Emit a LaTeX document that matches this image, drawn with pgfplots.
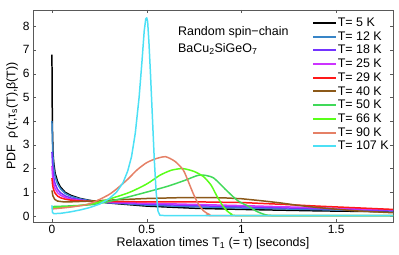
\documentclass[border=0pt]{standalone}
\usepackage{pgfplots}
\pgfplotsset{compat=1.18}
\usepackage{fontspec}
\setmainfont{Liberation Sans}
\definecolor{cK5}{rgb}{0,0,0}
\definecolor{cK12}{rgb}{0.22,0.52,0.78}
\definecolor{cK18}{rgb}{0.45,0.2,1}
\definecolor{cK25}{rgb}{0.8,0.2,1}
\definecolor{cK29}{rgb}{1,0.1,0.1}
\definecolor{cK40}{rgb}{0.55,0.35,0.1}
\definecolor{cK50}{rgb}{0.25,0.85,0.35}
\definecolor{cK66}{rgb}{0.35,1,0.1}
\definecolor{cK90}{rgb}{0.9,0.5,0.4}
\definecolor{cK107}{rgb}{0.3,0.88,0.96}
\begin{document}
\begin{tikzpicture}
\begin{axis}[
  name=ax, at={(0,0)}, anchor=south west,
  scale only axis, width=360bp, height=212bp,
  xmin=-0.1, xmax=1.8, ymin=-0.25, ymax=8.68,
  xtick={0,0.5,1,1.5}, ytick={0,1,...,8},
  tick align=inside, tick pos=both,
  major tick length=3bp,
  axis line style={black!65}, tick style={black!65},
  /pgf/number format/assume math mode=true,
  ticklabel style={font=\fontsize{12}{14}\selectfont},
  label style={font=\fontsize{12.5}{14}\selectfont},
  xlabel={Relaxation times T\textsubscript{1} (= τ) [seconds]},
  ylabel={PDF\ \ ρ(τ,τ\textsubscript{s}(T),β(T))},
  xlabel style={yshift=3bp},
  ylabel style={yshift=-2bp},
  legend style={draw=none, fill=none, inner sep=0pt, at={(rel axis cs:0.775,0.972)}, anchor=north west,
    font=\fontsize{12.5}{13.7}\selectfont, row sep=0pt,
    nodes={inner sep=0.6bp, text height=9.8bp, text depth=2.7bp},
    cells={anchor=west}},
  legend image code/.code={\draw[#1, line width=2pt] (0bp,0bp) -- (23bp,0bp);},
  myl/.style={line width=1.5pt, line join=round},
]
\addplot[myl, cK5] coordinates {(0,6.8)(0.001,5)(0.003,3.5)(0.006,2.6)(0.01,2.2)(0.017,1.8)(0.03,1.45)(0.045,1.22)(0.07,1.0)(0.1,0.87)(0.15,0.74)(0.2,0.66)(0.3,0.55)(0.5,0.42)(0.75,0.33)(1.0,0.28)(1.4,0.22)(1.8,0.18)};
\addlegendentry{T= 5 K}
\addplot[myl, cK12] coordinates {(0,4.0)(0.003,3.0)(0.006,2.4)(0.01,2.0)(0.017,1.65)(0.03,1.35)(0.045,1.15)(0.07,0.95)(0.1,0.83)(0.15,0.72)(0.2,0.65)(0.3,0.56)(0.5,0.46)(0.75,0.39)(1.0,0.34)(1.4,0.27)(1.8,0.21)};
\addlegendentry{T= 12 K}
\addplot[myl, cK18] coordinates {(0,2.7)(0.003,2.2)(0.006,1.85)(0.01,1.6)(0.017,1.35)(0.03,1.12)(0.045,0.98)(0.07,0.85)(0.1,0.76)(0.15,0.68)(0.2,0.63)(0.3,0.57)(0.5,0.5)(0.75,0.44)(1.0,0.39)(1.4,0.31)(1.8,0.23)};
\addlegendentry{T= 18 K}
\addplot[myl, cK25] coordinates {(0,2.1)(0.003,1.75)(0.006,1.5)(0.01,1.32)(0.017,1.15)(0.03,0.98)(0.045,0.88)(0.07,0.78)(0.1,0.71)(0.15,0.66)(0.2,0.62)(0.3,0.58)(0.5,0.54)(0.75,0.49)(1.0,0.44)(1.4,0.35)(1.8,0.26)};
\addlegendentry{T= 25 K}
\addplot[myl, cK29] coordinates {(0,1.6)(0.003,1.35)(0.006,1.2)(0.01,1.08)(0.017,0.96)(0.03,0.84)(0.045,0.77)(0.07,0.71)(0.1,0.67)(0.15,0.64)(0.2,0.62)(0.3,0.61)(0.5,0.6)(0.75,0.6)(1.0,0.57)(1.2,0.5)(1.4,0.42)(1.6,0.35)(1.8,0.28)};
\addlegendentry{T= 29 K}
\addplot[myl, cK40] coordinates {(0,1.08)(0.005,0.85)(0.015,0.7)(0.03,0.63)(0.06,0.6)(0.1,0.6)(0.2,0.63)(0.3,0.67)(0.5,0.74)(0.7,0.78)(0.9,0.77)(1.0,0.73)(1.1,0.65)(1.2,0.56)(1.3,0.45)(1.4,0.36)(1.5,0.29)(1.6,0.22)(1.8,0.14)};
\addlegendentry{T= 40 K}
\addplot[myl, cK50, smooth, tension=0.4] coordinates {(0,0.4)(0.1,0.43)(0.23,0.5)(0.4,0.8)(0.6,1.23)(0.7,1.5)(0.78,1.73)(0.85,1.62)(0.92,1.09)(0.98,0.65)(1.04,0.4)(1.08,0.2)(1.13,0.05)(1.2,0.02)(1.8,0.02)};
\addlegendentry{T= 50 K}
\addplot[myl, cK66, smooth, tension=0.4] coordinates {(0,0.35)(0.1,0.4)(0.23,0.55)(0.4,0.97)(0.5,1.35)(0.57,1.72)(0.63,1.93)(0.69,2.0)(0.75,1.88)(0.8,1.66)(0.84,1.3)(0.87,0.85)(0.9,0.45)(0.92,0.25)(0.95,0.07)(1.0,0.02)(1.8,0.02)};
\addlegendentry{T= 66 K}
\addplot[myl, cK90, smooth, tension=0.4] coordinates {(0,0.3)(0.1,0.38)(0.2,0.52)(0.3,0.9)(0.35,1.2)(0.4,1.55)(0.45,1.95)(0.5,2.25)(0.55,2.42)(0.6,2.5)(0.65,2.3)(0.693,1.94)(0.72,1.45)(0.745,0.96)(0.77,0.55)(0.8,0.22)(0.833,0.06)(0.87,0.02)(1.8,0.02)};
\addlegendentry{T= 90 K}
\addplot[myl, cK107] coordinates {(0,0.45)(0.003,0.15)(0.01,0.1)(0.05,0.12)(0.1,0.18)(0.15,0.26)(0.2,0.36)(0.25,0.5)(0.3,0.72)(0.34,1.0)(0.375,1.4)(0.4,1.9)(0.42,2.5)(0.44,3.5)(0.46,5.0)(0.475,6.5)(0.487,7.8)(0.495,8.3)(0.5,8.35)(0.505,8.2)(0.512,7.3)(0.52,6.0)(0.53,4.2)(0.54,2.4)(0.55,1.0)(0.56,0.2)(0.57,0.03)(0.6,0.02)(1.8,0.02)};
\addlegendentry{T= 107 K}
\node[anchor=base west, font=\fontsize{12.5}{14}\selectfont, inner sep=0pt] at (axis cs:0.665,7.62) {Random spin−chain};
\node[anchor=base west, font=\fontsize{12.5}{14}\selectfont, inner sep=0pt] at (axis cs:0.665,6.9) {BaCu\textsubscript{2}SiGeO\textsubscript{7}};
\end{axis}
\pgfresetboundingbox
\path[use as bounding box] (ax.south west) ++(-33bp,-33bp) rectangle ++(399bp,255bp);
\end{tikzpicture}
\end{document}
